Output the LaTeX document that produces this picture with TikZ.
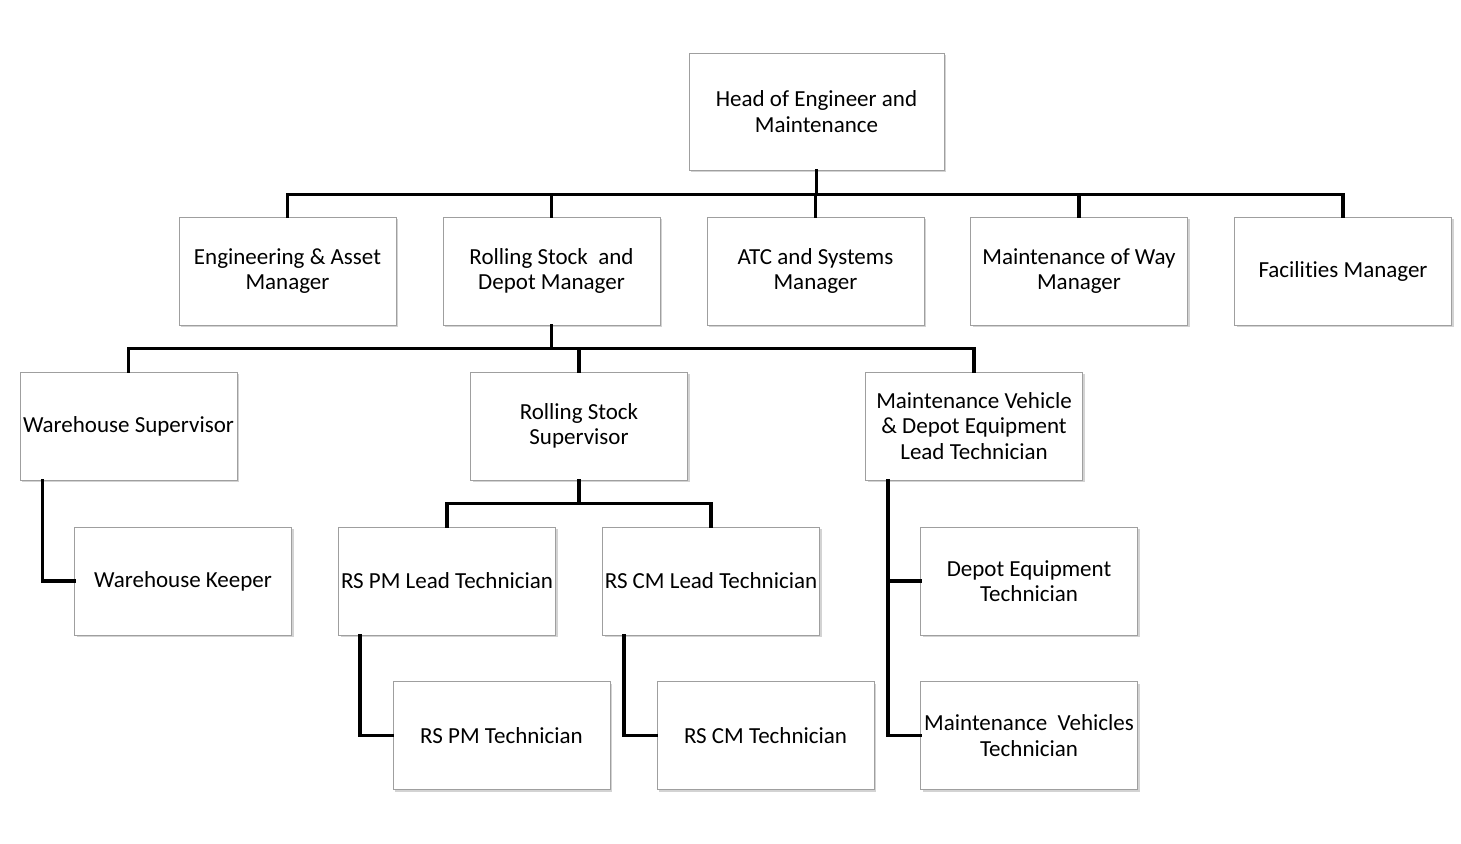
\documentclass[tikz,border=0pt]{standalone}
\usepackage{fontspec}
\setmainfont{Carlito}[Ligatures=NoCommon]
\usetikzlibrary{positioning, shadows}

\begin{document}
\begin{tikzpicture}[x=0.5pt,y=-0.5pt,
	box/.style={draw=gray!75, fill=white, line width=0.5pt, align=center,
		minimum width=108.5pt, minimum height=54pt, inner sep=1pt,
		font=\fontsize{11.5}{12.6}\selectfont,
		drop shadow={opacity=0.35, shadow xshift=1pt, shadow yshift=-1pt}},
	link/.style={line width=1.7pt, line cap=rect}]
	\useasboundingbox (0,0) rectangle (1461,843);
	% top
	\node[box, minimum width=127.5pt, minimum height=58.5pt] (head) at (816.5,111.5) {Head of Engineer and\\Maintenance};
	% managers
	\node[box] (eam)  at (287.5,271) {Engineering \& Asset\\Manager};
	\node[box] (rsdm) at (551.5,271) {Rolling Stock~ and\\Depot Manager};
	\node[box] (atc)  at (815.5,271) {ATC and Systems\\Manager};
	\node[box] (mow)  at (1079,271)  {Maintenance of Way\\Manager};
	\node[box] (fac)  at (1343,271)  {Facilities Manager};
	% supervisors
	\node[box] (ws)  at (128.5,426) {Warehouse Supervisor};
	\node[box] (rss) at (579,426)   {Rolling Stock\\Supervisor};
	\node[box] (mvl) at (974,426)   {Maintenance Vehicle\\\& Depot Equipment\\Lead Technician};
	% technicians
	\node[box] (wk)   at (183,581)    {Warehouse Keeper};
	\node[box] (pml)  at (447,581)    {RS PM Lead Technician};
	\node[box] (cml)  at (711,581)    {RS CM Lead Technician};
	\node[box] (det)  at (1029,581)   {Depot Equipment\\Technician};
	\node[box] (pmt)  at (501.5,735.5) {RS PM Technician};
	\node[box] (cmt)  at (765.5,735.5) {RS CM Technician};
	\node[box] (mvt)  at (1029,735.5)  {Maintenance~ Vehicles\\Technician};

	\foreach \m in {eam,rsdm,atc,mow,fac}
		\draw[link] (head.south) -- ++(0,24) -| (\m.north);
	\foreach \m in {ws,rss,mvl}
		\draw[link] (rsdm.south) -- ++(0,23) -| (\m.north);
	\foreach \m in {pml,cml}
		\draw[link] (rss.south) -- ++(0,23) -| (\m.north);
	\draw[link] (ws.south west) ++(23,0) |- (wk.west);
	\draw[link] (pml.south west) ++(22,0) |- (pmt.west);
	\draw[link] (cml.south west) ++(22,0) |- (cmt.west);
	\draw[link] (mvl.south west) ++(23,0) |- (det.west);
	\draw[link] (mvl.south west) ++(23,0) |- (mvt.west);
\end{tikzpicture}
\end{document}
